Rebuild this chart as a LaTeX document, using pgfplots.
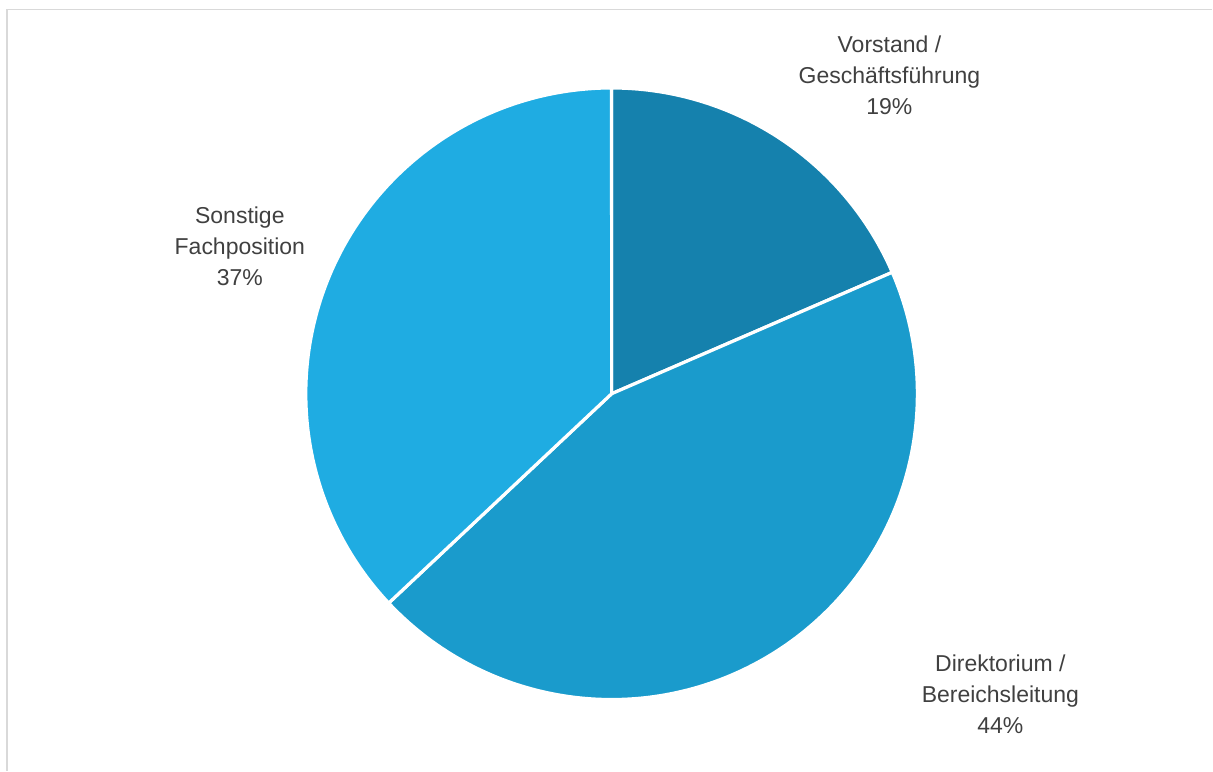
\documentclass[border=0pt]{standalone}
\usepackage{pgfplots}
\pgfplotsset{compat=1.18}
\usepackage{fontspec}
\setmainfont{Liberation Sans}
\definecolor{vorst}{HTML}{1581AD}
\definecolor{direkt}{HTML}{1A9BCC}
\definecolor{sonst}{HTML}{1FACE2}
\definecolor{txt}{HTML}{404040}
\definecolor{frame}{HTML}{D9D9D9}
% shares in percent
\def\valA{18.5}% Vorstand / Geschaeftsfuehrung
\def\valB{44.5}% Direktorium / Bereichsleitung
\def\valC{37.0}% Sonstige Fachposition
\begin{document}
\begin{tikzpicture}
\begin{axis}[
  width=909.75pt, height=578.25pt, scale only axis,
  xmin=0, xmax=1213, ymin=0, ymax=771, y dir=reverse,
  hide axis, clip=false,
]
\path (axis cs:0,0) rectangle (axis cs:1213,771);
\draw[frame, line width=1.2pt] (axis cs:7,771) -- (axis cs:7,9.5) -- (axis cs:1213,9.5);
\addplot[draw=white, line width=2.4pt, line join=round, fill=vorst, domain={90}:{90-3.6*\valA}, samples=80, variable=\t]
  ({612+306*cos(\t)},{394-306*sin(\t)}) -- (axis cs:612,394) -- cycle;
\addplot[draw=white, line width=2.4pt, line join=round, fill=direkt, domain={90-3.6*\valA}:{90-3.6*(\valA+\valB)}, samples=150, variable=\t]
  ({612+306*cos(\t)},{394-306*sin(\t)}) -- (axis cs:612,394) -- cycle;
\addplot[draw=white, line width=2.4pt, line join=round, fill=sonst, domain={90-3.6*(\valA+\valB)}:{-270}, samples=130, variable=\t]
  ({612+306*cos(\t)},{394-306*sin(\t)}) -- (axis cs:612,394) -- cycle;
\begin{scope}[every node/.style={text=txt, font=\fontsize{17.25pt}{23.25pt}\selectfont, align=center, inner sep=0pt}]
\node at (axis cs:890,75) {Vorstand /\\Geschäftsführung\\19\%};
\node at (axis cs:1001,695) {Direktorium /\\Bereichsleitung\\44\%};
\node at (axis cs:240,246) {Sonstige\\Fachposition\\37\%};
\end{scope}
\end{axis}
\end{tikzpicture}
\end{document}
